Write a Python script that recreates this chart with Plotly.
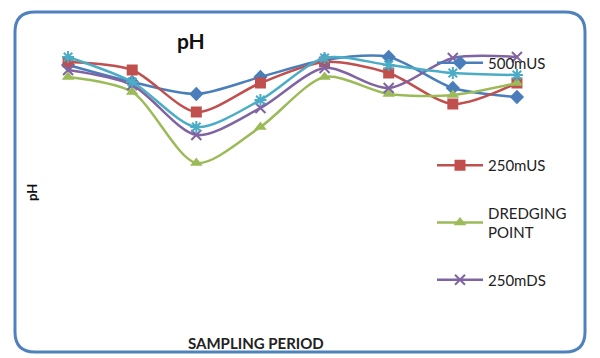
import plotly.graph_objects as go

periods = [1, 2, 3, 4, 5, 6, 7, 8]
ph_500mUS = [7.72, 7.55, 7.43, 7.60, 7.77, 7.80, 7.49, 7.40]
ph_250mUS = [7.75, 7.67, 7.25, 7.54, 7.75, 7.64, 7.33, 7.54]
ph_dredging = [7.60, 7.45, 6.74, 7.10, 7.60, 7.43, 7.42, 7.54]
ph_250mDS = [7.67, 7.52, 7.02, 7.29, 7.69, 7.49, 7.79, 7.80]
ph_500mDS = [7.80, 7.55, 7.10, 7.37, 7.79, 7.72, 7.64, 7.62]

W, H = 600, 358
font = "Lato"

fig = go.Figure()

series = [
    ("500mUS", ph_500mUS, "#4a7ebb", "diamond", "legend", True),
    ("250mUS", ph_250mUS, "#c0504d", "square", "legend2", True),
    ("DREDGING<br>POINT", ph_dredging, "#9bbb59", "triangle-up", "legend2", True),
    ("250mDS", ph_250mDS, "#8064a2", "x-thin", "legend2", True),
    ("500mDS", ph_500mDS, "#4bacc6", "asterisk", "legend2", False),
]

for name, vals, col, sym, leg, show in series:
    thin = sym in ("x-thin", "asterisk")
    fig.add_trace(go.Scatter(
        x=periods, y=vals, name=name, mode="lines+markers",
        line=dict(color=col, width=2.5, shape="spline", smoothing=0.8),
        marker=dict(symbol=sym, size=11 if not thin else 10, color=col,
                    line=dict(color=col, width=2 if thin else 0)),
        legend=leg, legendgroup=name, showlegend=show,
    ))

# rounded frame in paper coordinates
def px(x):
    return x / W

def py(y):
    return 1 - y / H

x0, x1, y0, y1, r = 15, 585, 12, 352, 20
path = (
    f"M {px(x0 + r)} {py(y0)} L {px(x1 - r)} {py(y0)} "
    f"Q {px(x1)} {py(y0)} {px(x1)} {py(y0 + r)} "
    f"L {px(x1)} {py(y1 - r)} Q {px(x1)} {py(y1)} {px(x1 - r)} {py(y1)} "
    f"L {px(x0 + r)} {py(y1)} Q {px(x0)} {py(y1)} {px(x0)} {py(y1 - r)} "
    f"L {px(x0)} {py(y0 + r)} Q {px(x0)} {py(y0)} {px(x0 + r)} {py(y0)} Z"
)
fig.add_shape(type="path", path=path, xref="paper", yref="paper",
              line=dict(color="#4f81bd", width=3))

legfont = dict(family=font, size=15, color="#222")
fig.update_layout(
    width=W, height=H,
    margin=dict(l=0, r=0, t=0, b=0),
    paper_bgcolor="white", plot_bgcolor="white",
    showlegend=True,
    xaxis=dict(domain=[36 / W, 549 / W], range=[0.5, 8.5], visible=False),
    yaxis=dict(domain=[0, 1], range=[7.8 - (H - 57) / 100, 7.8 + 57 / 100], visible=False),
    legend=dict(x=432 / W, y=py(63), yanchor="middle", xanchor="left",
                font=legfont, itemwidth=46, bgcolor="rgba(0,0,0,0)"),
    legend2=dict(x=432 / W, y=py(149), yanchor="top", xanchor="left",
                 font=legfont, itemwidth=46,
                 tracegroupgap=25, bgcolor="rgba(0,0,0,0)"),
    annotations=[
        dict(text="<b>pH</b>", x=px(191), y=py(40), xref="paper", yref="paper",
             xanchor="center", yanchor="middle",
             showarrow=False, font=dict(family=font, size=21, color="#111")),
        dict(text="<b>pH</b>", x=px(32), y=py(193), xref="paper", yref="paper",
             xanchor="center", yanchor="middle",
             showarrow=False, textangle=-90, font=dict(family=font, size=13, color="#111")),
        dict(text="<b>SAMPLING PERIOD</b>", x=px(256), y=py(343), xref="paper", yref="paper",
             xanchor="center", yanchor="middle",
             showarrow=False, font=dict(family=font, size=15, color="#222")),
    ],
)

fig.write_html("out.html")
